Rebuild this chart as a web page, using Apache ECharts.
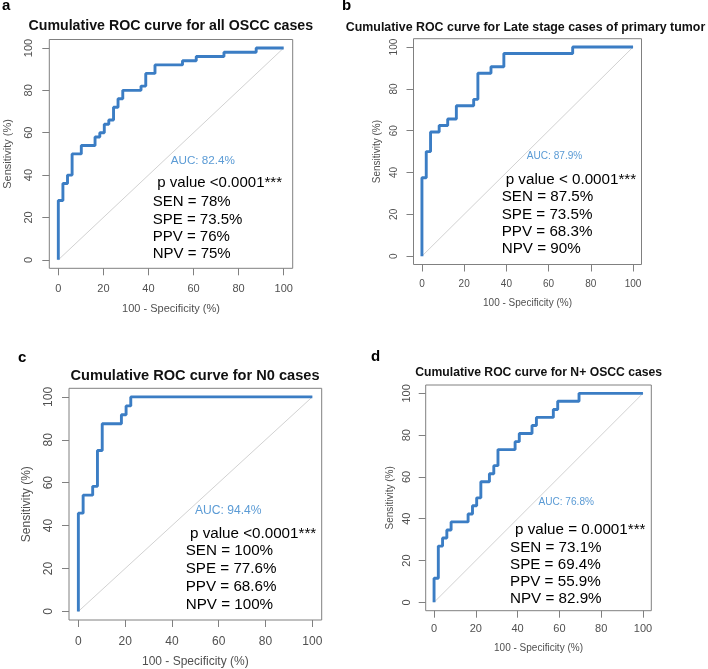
<!DOCTYPE html>
<html><head><meta charset="utf-8">
<script src="https://cdn.jsdelivr.net/npm/echarts@6/dist/echarts.min.js"></script>
<style>html,body{margin:0;padding:0;background:#fff}#c{width:708px;height:669px}</style>
</head><body><div id="c"></div>
<script>
// ---- data ----
const tickValues = [0, 20, 40, 60, 80, 100];
const diagX = [0, 100];
const diagY = [0, 100];

// (100 - specificity, sensitivity) at each vertical step of the ROC curve
const fprA = [0, 0, 2.04, 4.08, 6.12, 10.2, 16.3, 18.4, 20.4, 22.4, 24.5, 26.5, 28.6, 36.7, 38.8, 42.9, 55.1, 61.2, 73.5, 87.8, 100];
const tprA = [0, 28, 36, 40, 50, 54, 58, 60, 64, 66, 72, 76, 80, 82, 88, 92, 94, 96, 98, 100, 100];

const fprB = [0, 0, 2.04, 4.08, 8.16, 12.2, 16.3, 24.5, 26.5, 32.7, 38.8, 71.4, 100];
const tprB = [0, 37.5, 50, 59.4, 62.5, 65.6, 71.9, 75, 87.5, 90.6, 96.9, 100, 100];

const fprC = [0, 0, 2.04, 6.12, 8.16, 10.2, 18.4, 20.4, 22.4, 100];
const tprC = [0, 45.8, 54.2, 58.3, 75, 87.5, 91.7, 95.8, 100, 100];

const fprD = [0, 0, 2.04, 4.08, 6.12, 8.16, 16.3, 18.4, 20.4, 22.4, 26.5, 28.6, 30.6, 38.8, 40.8, 46.9, 49.0, 57.1, 59.2, 69.4, 100];
const tprD = [0, 11.5, 26.9, 30.8, 34.6, 38.5, 42.3, 46.2, 50, 57.7, 61.5, 65.4, 73.1, 76.9, 80.8, 84.6, 88.5, 92.3, 96.2, 100, 100];

const letters = ['a', 'b', 'c', 'd'];
const titles = [
  'Cumulative ROC curve for all OSCC cases',
  'Cumulative ROC curve for Late stage cases of primary tumor',
  'Cumulative ROC curve for N0 cases',
  'Cumulative ROC curve for N+ OSCC cases'
];
const aucTexts = ['AUC: 82.4%', 'AUC: 87.9%', 'AUC: 94.4%', 'AUC: 76.8%'];
const pTexts = ['p value <0.0001***', 'p value < 0.0001***', 'p value <0.0001***', 'p value = 0.0001***'];
const statTexts = [
  ['SEN = 78%', 'SPE = 73.5%', 'PPV = 76%', 'NPV = 75%'],
  ['SEN = 87.5%', 'SPE = 73.5%', 'PPV = 68.3%', 'NPV = 90%'],
  ['SEN = 100%', 'SPE = 77.6%', 'PPV = 68.6%', 'NPV = 100%'],
  ['SEN = 73.1%', 'SPE = 69.4%', 'PPV = 55.9%', 'NPV = 82.9%']
];
const xTitle = '100 - Specificity (%)';
const yTitle = 'Sensitivity (%)';

const fprs = [fprA, fprB, fprC, fprD];
const tprs = [tprA, tprB, tprC, tprD];

// ---- layout ----
const L = [
  {grid: [49.3, 39.5, 243.4, 228.8], tick: 11, axT: 11, xm: 15.2, ym: 14.8, xg: 35.5, yg: 35.5,
   letter: [2, 7], title: [170.8, 26, 14.2], auc: [202.8, 161, 11.7],
   p: [157.3, 182.7], sx: 152.7, sy: [201.7, 219.7, 237.3, 254.3], fs: 15},
  {grid: [413.5, 38.7, 228, 225.8], tick: 10, axT: 10, xm: 14.8, ym: 13.8, xg: 33.8, yg: 31.2,
   letter: [342, 7], title: [525.5, 27.3, 12.4], auc: [554.5, 156, 10.1],
   p: [505.7, 180], sx: 501.7, sy: [197.3, 215, 231.7, 249.3], fs: 15.2},
  {grid: [69, 388.3, 252.7, 231.7], tick: 12, axT: 12, xm: 15.7, ym: 14.7, xg: 35.7, yg: 36.3,
   letter: [18, 359.3], title: [195, 375.7, 14.6], auc: [228.3, 510.7, 12.1],
   p: [190, 534], sx: 185.7, sy: [551, 569.3, 586.7, 605], fs: 15.2},
  {grid: [425.7, 385, 225.6, 225.7], tick: 11, axT: 10, xm: 12.8, ym: 12.9, xg: 32.6, yg: 30.7,
   letter: [371, 358.3], title: [538.7, 372.7, 12.2], auc: [566.2, 502.7, 10.1],
   p: [515, 530], sx: 510, sy: [548.3, 565, 582.3, 599], fs: 15.2}
];

const FONT = '"Liberation Sans", Arial, sans-serif';
const AXC = '#808080';
const LABC = '#505050';
const CURVE = '#3b7dc4';
const AUCC = '#5b9bd5';

const grids = [], xAxes = [], yAxes = [], series = [], graphics = [];
L.forEach((p, i) => {
  grids.push({left: p.grid[0], top: p.grid[1], width: p.grid[2], height: p.grid[3],
    show: true, borderColor: AXC, borderWidth: 1, backgroundColor: 'transparent'});
  const common = {
    type: 'value', gridIndex: i, min: -4, max: 104,
    axisLine: {show: false, onZero: false},
    splitLine: {show: false},
    axisTick: {show: true, customValues: tickValues, length: 7, lineStyle: {color: AXC, width: 1}},
    nameLocation: 'middle',
    nameTextStyle: {fontFamily: FONT, fontSize: p.axT, color: LABC},
    nameMoveOverlap: false
  };
  xAxes.push(Object.assign({}, common, {
    position: 'bottom', name: xTitle, nameGap: p.xg,
    axisLabel: {customValues: tickValues, margin: p.xm, fontFamily: FONT, fontSize: p.tick, color: LABC}
  }));
  yAxes.push(Object.assign({}, common, {
    position: 'left', name: yTitle, nameGap: p.yg, nameRotate: 90,
    axisLabel: {customValues: tickValues, margin: p.ym, rotate: 90, fontFamily: FONT, fontSize: p.tick, color: LABC}
  }));
  series.push({
    type: 'line', xAxisIndex: i, yAxisIndex: i, showSymbol: false, silent: true,
    data: diagX.map((x, k) => [x, diagY[k]]),
    lineStyle: {color: '#d2d2d2', width: 1}, z: 2
  });
  series.push({
    type: 'line', xAxisIndex: i, yAxisIndex: i, showSymbol: false, silent: true, step: 'end',
    data: fprs[i].map((x, k) => [x, tprs[i][k]]),
    lineStyle: {color: CURVE, width: 2.9}, z: 3
  });
  graphics.push({type: 'text', left: p.letter[0], top: p.letter[1] - 9,
    style: {text: letters[i], font: 'bold 15px ' + FONT, fill: '#000'}});
  graphics.push({type: 'text', x: p.title[0], y: p.title[1],
    style: {text: titles[i], font: 'bold ' + p.title[2] + 'px ' + FONT, fill: '#111', align: 'center', verticalAlign: 'middle'}});
  graphics.push({type: 'text', x: p.auc[0], y: p.auc[1],
    style: {text: aucTexts[i], font: p.auc[2] + 'px ' + FONT, fill: AUCC, align: 'center', verticalAlign: 'middle'}});
  graphics.push({type: 'text', x: p.p[0], y: p.p[1],
    style: {text: pTexts[i], font: p.fs + 'px ' + FONT, fill: '#000', align: 'left', verticalAlign: 'middle'}});
  statTexts[i].forEach((t, k) => {
    graphics.push({type: 'text', x: p.sx, y: p.sy[k],
      style: {text: t, font: p.fs + 'px ' + FONT, fill: '#000', align: 'left', verticalAlign: 'middle'}});
  });
});

const chart = echarts.init(document.getElementById('c'), null, {renderer: 'canvas'});
chart.setOption({
  animation: false,
  backgroundColor: '#fff',
  grid: grids, xAxis: xAxes, yAxis: yAxes, series: series,
  graphic: graphics
});
</script>
</body></html>
